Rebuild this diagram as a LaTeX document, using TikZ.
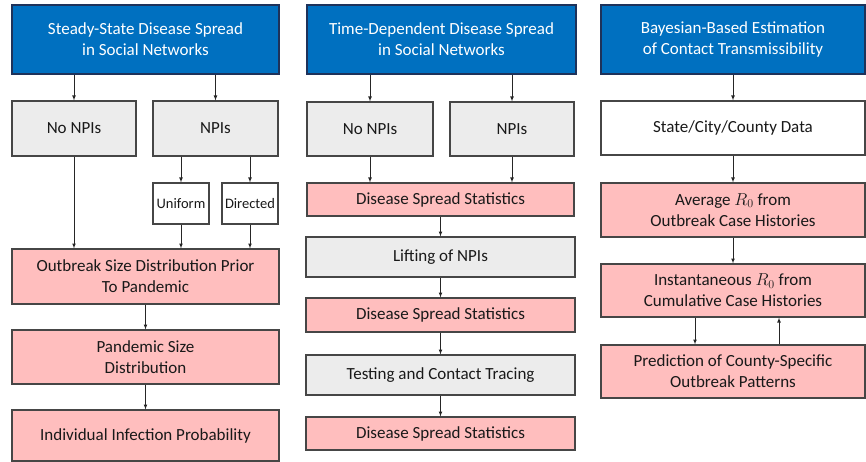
\documentclass[tikz,border=0pt]{standalone}
\usepackage{amsmath}
\usepackage{fontspec}
\setmainfont{Carlito}
\usetikzlibrary{arrows,arrows.meta,positioning,calc}

\definecolor{headblue}{RGB}{0,112,192}
\definecolor{headline}{RGB}{30,50,90}
\definecolor{boxpink}{RGB}{255,190,190}
\definecolor{boxgray}{RGB}{236,236,236}
\definecolor{boxline}{RGB}{70,70,70}
\definecolor{textdark}{RGB}{25,25,25}

\tikzset{
  head/.style={draw=headline, fill=headblue, line width=1.2pt, text=white, align=center, inner sep=2pt, font=\fontsize{17}{21}\selectfont},
  choice/.style={draw=boxline, fill=boxgray, line width=1.2pt, text=textdark, align=center, inner sep=2pt, font=\fontsize{17}{21}\selectfont},
  result/.style={draw=boxline, fill=boxpink, line width=1.2pt, text=textdark, align=center, inner sep=2pt, font=\fontsize{17}{21}\selectfont},
  plain/.style={draw=boxline, fill=white, line width=1.2pt, text=textdark, align=center, inner sep=2pt, font=\fontsize{17}{21}\selectfont},
  small/.style={draw=boxline, fill=white, line width=1.2pt, text=textdark, align=center, inner sep=1pt, font=\fontsize{14.5}{17}\selectfont},
  arr/.style={-latex, line width=0.7pt, draw=black!85}
}

\begin{document}
\begin{tikzpicture}[x=1pt,y=-1pt]
        \useasboundingbox (0,0) rectangle (866,462);

        % left column boxes
        \node[head, minimum width=267pt, minimum height=69pt] (sHead) at (145.5,39.5) {Steady-State Disease Spread\\in Social Networks};
        \node[choice, minimum width=124pt, minimum height=55pt] (sNo) at (74,128.5) {No NPIs};
        \node[choice, minimum width=125pt, minimum height=55pt] (sNpi) at (215.5,128.5) {NPIs};
        \node[small, minimum width=56pt, minimum height=41pt] (sUni) at (181,203.5) {Uniform};
        \node[small, minimum width=56pt, minimum height=41pt] (sDir) at (250,203.5) {Directed};
        \node[result, minimum width=267pt, minimum height=55pt] (sOut) at (145.5,276.5) {Outbreak Size Distribution Prior\\To Pandemic};
        \node[result, minimum width=267pt, minimum height=54pt] (sPan) at (145.5,357) {Pandemic Size\\Distribution};
        \node[result, minimum width=267pt, minimum height=51pt] (sInd) at (145.5,435.5) {Individual Infection Probability};

        % left column arrows
        \draw[arr] (sHead.south -| sNo) -- (sNo);
        \draw[arr] (sHead.south -| sNpi) -- (sNpi);
        \draw[arr] (sNpi.south -| sUni) -- (sUni);
        \draw[arr] (sNpi.south -| sDir) -- (sDir);
        \draw[arr] (sNo) -- (sNo |- sOut.north);
        \draw[arr] (sUni) -- (sUni |- sOut.north);
        \draw[arr] (sDir) -- (sDir |- sOut.north);
        \draw[arr] (sOut) -- (sPan);
        \draw[arr] (sPan) -- (sInd);

        % ================== middle column ==================
        \node[head, minimum width=269pt, minimum height=69pt] (tHead) at (441.5,39.5) {Time-Dependent Disease Spread\\in Social Networks};
        \node[choice, minimum width=126pt, minimum height=54pt] (tNo) at (370,129) {No NPIs};
        \node[choice, minimum width=124pt, minimum height=54pt] (tNpi) at (512,129) {NPIs};
        \node[result, minimum width=267pt, minimum height=33pt] (tStat1) at (440.5,199.5) {Disease Spread Statistics};
        \node[choice, minimum width=269pt, minimum height=40pt] (tLift) at (440.5,257) {Lifting of NPIs};
        \node[result, minimum width=269pt, minimum height=34pt] (tStat2) at (440.5,315) {Disease Spread Statistics};
        \node[choice, minimum width=269pt, minimum height=40pt] (tTest) at (440.5,375) {Testing and Contact Tracing};
        \node[result, minimum width=269pt, minimum height=33pt] (tStat3) at (440.5,433.5) {Disease Spread Statistics};

        % middle column arrows
        \draw[arr] (tHead.south -| tNo) -- (tNo);
        \draw[arr] (tHead.south -| tNpi) -- (tNpi);
        \draw[arr] (tNo) -- (tNo |- tStat1.north);
        \draw[arr] (tNpi) -- (tNpi |- tStat1.north);
        \draw[arr] (tStat1) -- (tLift);
        \draw[arr] (tLift) -- (tStat2);
        \draw[arr] (tStat2) -- (tTest);
        \draw[arr] (tTest) -- (tStat3);
        % ===================================================

        % right column boxes
        \node[head, minimum width=264pt, minimum height=69pt] (bHead) at (733,39.5) {Bayesian-Based Estimation\\of Contact Transmissibility};
        \node[plain, minimum width=264pt, minimum height=54pt] (bData) at (733,128) {State/City/County Data};
        \node[result, minimum width=264pt, minimum height=54pt] (bAvg) at (733,210) {Average $R_0$ from\\Outbreak Case Histories};
        \node[result, minimum width=264pt, minimum height=53pt] (bInst) at (733,290.5) {Instantaneous $R_0$ from\\Cumulative Case Histories};
        \node[result, minimum width=264pt, minimum height=53pt] (bPred) at (733,371.5) {Prediction of County-Specific\\Outbreak Patterns};

        % right column arrows
        \draw[arr] (bHead) -- (bData);
        \draw[arr] (bData) -- (bAvg);
        \draw[arr] (bAvg) -- (bInst);
        \draw[arr] ([xshift=-38pt]bInst.south) -- ([xshift=-38pt]bPred.north);
        \draw[arr] ([xshift=46pt]bPred.north) -- ([xshift=46pt]bInst.south);
    \end{tikzpicture}
\end{document}
